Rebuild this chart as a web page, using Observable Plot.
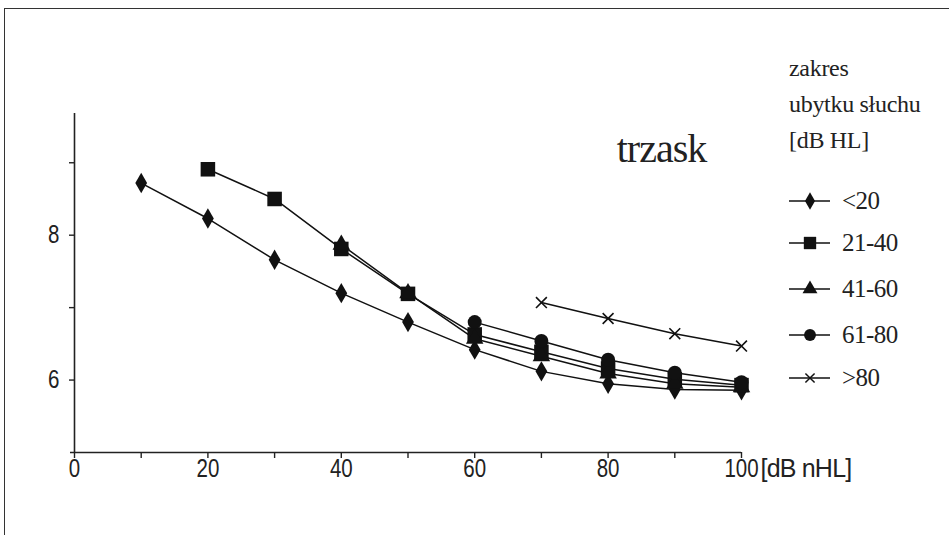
<!DOCTYPE html>
<html>
<head>
<meta charset="utf-8">
<script src="https://cdn.jsdelivr.net/npm/d3@7"></script>
<script src="https://cdn.jsdelivr.net/npm/@observablehq/plot@0.6"></script>
<style>
  html, body { margin: 0; padding: 0; background: #fff; }
  #wrap { position: relative; width: 949px; height: 535px; overflow: hidden; background: #fff; }
  #frame { position: absolute; left: 4px; top: 8px; width: 960px; height: 560px; border-left: 1.5px solid #333; border-top: 1.5px solid #333; box-sizing: border-box; }
  #chart { position: absolute; left: 0; top: 0; }
  #legend { position: absolute; left: 789px; top: 0; font-family: "Liberation Serif", serif; color: #222; white-space: nowrap; }
  #legend .title { position: absolute; left: 0; font-size: 24px; line-height: 24px; letter-spacing: -0.3px; }
  #legend .item { position: absolute; left: 0; height: 24px; display: flex; align-items: center; white-space: nowrap; }
  #legend .item span { font-size: 25px; letter-spacing: -0.5px; margin-left: 11px; }
</style>
</head>
<body>
<div id="wrap">
  <div id="frame"></div>
  <div id="chart"></div>
  <div id="legend"></div>
</div>
<script>
// ---- data ----
const xTicks = [0, 10, 20, 30, 40, 50, 60, 70, 80, 90, 100];
const xLabels = [0, 20, 40, 60, 80, 100];
const yTicks = [6, 7, 8, 9];
const yLabels = [6, 8];
const seriesNames = ["<20", "21-40", "41-60", "61-80", ">80"];
const x_lt20 = [10, 20, 30, 40, 50, 60, 70, 80, 90, 100];
const y_lt20 = [8.72, 8.23, 7.66, 7.20, 6.80, 6.42, 6.12, 5.95, 5.87, 5.86];
const x_21_40 = [20, 30, 40, 50, 60, 70, 80, 90, 100];
const y_21_40 = [8.91, 8.50, 7.81, 7.19, 6.63, 6.39, 6.16, 6.01, 5.93];
const x_41_60 = [40, 50, 60, 70, 80, 90, 100];
const y_41_60 = [7.87, 7.20, 6.57, 6.33, 6.09, 5.95, 5.90];
const x_61_80 = [60, 70, 80, 90, 100];
const y_61_80 = [6.80, 6.54, 6.28, 6.10, 5.97];
const x_gt80 = [70, 80, 90, 100];
const y_gt80 = [7.07, 6.85, 6.64, 6.47];
const panelTitle = "trzask";
const xUnit = "[dB nHL]";
const legendTitle = ["zakres", "ubytku słuchu", "[dB HL]"];

// ---- build table ----
const seriesX = [x_lt20, x_21_40, x_41_60, x_61_80, x_gt80];
const seriesY = [y_lt20, y_21_40, y_41_60, y_61_80, y_gt80];
const rows = [];
seriesNames.forEach((s, i) => seriesX[i].forEach((x, j) => rows.push({series: s, x, y: seriesY[i][j]})));

const symStyle = {
  "<20":   {symbol: "diamond",  r: 6.2, fill: "#111", stroke: "none"},
  "21-40": {symbol: "square",   r: 8.2, fill: "#111", stroke: "none"},
  "41-60": {symbol: "triangle", r: 6.5, fill: "#111", stroke: "none"},
  "61-80": {symbol: "circle",   r: 7.0, fill: "#111", stroke: "none"},
  ">80":   {symbol: "times",    r: 5.0, fill: "none", stroke: "#111"}
};

const marks = [
  Plot.ruleX([0], {stroke: "#222", strokeWidth: 1.6}),
  Plot.ruleY([5], {x1: -0.6, x2: 100, stroke: "#222", strokeWidth: 1.6}),
  Plot.axisX({ticks: xTicks, tickSize: 6, tickFormat: () => "", label: null, stroke: "#222", strokeWidth: 1.4}),
  Plot.axisX({ticks: xLabels, tickSize: 0, tickPadding: 7, label: null, fill: "#222"}),
  Plot.axisY({ticks: yTicks, tickSize: 5, tickPadding: 10, tickFormat: d => yLabels.includes(d) ? String(d) : "", label: null, stroke: "#222", strokeWidth: 1.4, fill: "#222"}),
  Plot.line(rows, {x: "x", y: "y", z: "series", stroke: "#111", strokeWidth: 1.5})
];
seriesNames.forEach(s => {
  const st = symStyle[s];
  marks.push(Plot.dot(rows.filter(d => d.series === s), {x: "x", y: "y", symbol: () => st.symbol, r: st.r, fill: st.fill, stroke: st.stroke, strokeWidth: 1.6}));
});
marks.push(Plot.text([xUnit], {x: 100, y: 5, text: d => d, dx: 19, dy: 7, lineAnchor: "top", textAnchor: "start", fill: "#222", fontSize: 25}));
marks.push(Plot.text([panelTitle], {x: 88, y: 9.19, text: d => d, fontFamily: "Liberation Serif", fontSize: 40, fill: "#222"}));

const chart = Plot.plot({
  width: 949, height: 535,
  marginLeft: 74, marginRight: 208, marginTop: 113, marginBottom: 83,
  x: {domain: [0, 100]},
  y: {domain: [5, 9.68]},
  symbol: {type: "identity"},
  style: {fontFamily: "Liberation Sans, Arial, sans-serif", fontSize: "25px", color: "#222", background: "transparent"},
  marks
});
// condense the sans-serif tick labels horizontally (like the narrow font of the original)
chart.querySelectorAll("g[aria-label$='tick label'] text").forEach(t => {
  if (!t.textContent) return;
  const tr = t.getAttribute("transform") || "";
  t.setAttribute("transform", (tr + " scale(0.82,1)").trim());
});
chart.querySelectorAll("text").forEach(t => {
  if (t.textContent === panelTitle) t.setAttribute("letter-spacing", "-1");
  if (t.textContent === xUnit) t.setAttribute("letter-spacing", "-0.8");
});
document.getElementById("chart").appendChild(chart);

// ---- legend ----
const leg = document.getElementById("legend");
const titleTops = [56, 92, 128];
legendTitle.forEach((t, i) => { const d = document.createElement("div"); d.className = "title"; d.style.top = titleTops[i] + "px"; d.textContent = t; leg.appendChild(d); });
const symMap = {diamond: d3.symbolDiamond, square: d3.symbolSquare, triangle: d3.symbolTriangle, circle: d3.symbolCircle, times: d3.symbolTimes};
const itemTops = [189, 231, 277, 323, 366];
seriesNames.forEach((s, i) => {
  const st = symStyle[s];
  const item = document.createElement("div");
  item.className = "item";
  item.style.top = itemTops[i] + "px";
  const svg = d3.create("svg").attr("width", 42).attr("height", 24);
  svg.append("line").attr("x1", 0).attr("x2", 41).attr("y1", 12).attr("y2", 12).attr("stroke", "#111").attr("stroke-width", 1.5);
  const sz = Math.PI * (st.r * 0.85) ** 2;
  svg.append("path").attr("transform", "translate(21,12)")
    .attr("d", d3.symbol(symMap[st.symbol], sz)())
    .attr("fill", st.fill).attr("stroke", st.stroke).attr("stroke-width", 1.5);
  item.appendChild(svg.node());
  const sp = document.createElement("span");
  sp.textContent = s;
  item.appendChild(sp);
  leg.appendChild(item);
});
</script>
</body>
</html>
